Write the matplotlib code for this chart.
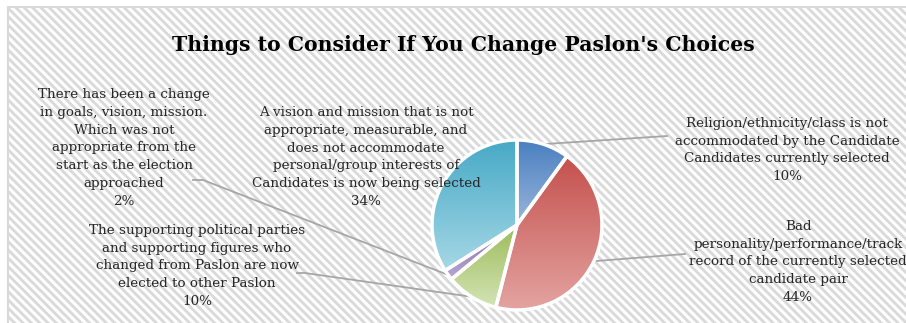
import numpy as np
import matplotlib
matplotlib.use("Agg")
import matplotlib.pyplot as plt
from matplotlib.colors import LinearSegmentedColormap
from matplotlib.patches import Rectangle

# survey shares, clockwise from 12 o'clock
labels = [
    "Religion/ethnicity/class is not\naccommodated by the Candidate\nCandidates currently selected",
    "Bad\npersonality/performance/track\nrecord of the currently selected\ncandidate pair",
    "The supporting political parties\nand supporting figures who\nchanged from Paslon are now\nelected to other Paslon",
    "There has been a change\nin goals, vision, mission.\nWhich was not\nappropriate from the\nstart as the election\napproached",
    "A vision and mission that is not\nappropriate, measurable, and\ndoes not accommodate\npersonal/group interests of\nCandidates is now being selected",
]
values = [10, 44, 10, 2, 34]
title = "Things to Consider If You Change Paslon's Choices"

top_colors = ["#4a7fc0", "#c4504d", "#9bbb59", "#8064a2", "#47a9c6"]
bottom_colors = ["#9ab6dc", "#e4a5a2", "#d4e4b6", "#b9a9d2", "#a6d8e6"]

W, H = 906, 323
plt.rcParams["font.family"] = "DejaVu Serif"
plt.rcParams["hatch.linewidth"] = 2.0

fig = plt.figure(figsize=(W / 100, H / 100), dpi=100)
ax = fig.add_axes([0, 0, 1, 1])


def Y(y):
    # pixel rows counted from the top
    return H - y


# striped chart area, running off the right and bottom edges
bg = Rectangle((8, -10), W + 10, Y(7) + 10, facecolor="white", edgecolor="#d9d9d9",
               hatch="\\\\\\\\", linewidth=1.5, zorder=0)
ax.add_patch(bg)

cx, cy, r = 517, Y(225), 85
wedges, _ = ax.pie(values, startangle=90, counterclock=False, center=(cx, cy),
                   radius=r, wedgeprops=dict(facecolor="none", edgecolor="white",
                                             linewidth=2.5, zorder=3))

# vertical gradient inside each slice
grad = np.linspace(0, 1, 256).reshape(-1, 1)
for w, c1, c2 in zip(wedges, top_colors, bottom_colors):
    v = w.get_path().vertices
    cmap = LinearSegmentedColormap.from_list("g", [c1, c2])
    im = ax.imshow(grad, cmap=cmap, extent=(v[:, 0].min(), v[:, 0].max(),
                                            v[:, 1].min(), v[:, 1].max()),
                   origin="upper", aspect="auto", zorder=2)
    im.set_clip_path(w)

# labels with percentages
label_pos = [(787, 150), (798, 262), (197, 266), (124, 148), (366, 157)]
for lab, val, (lx, ly) in zip(labels, values, label_pos):
    ax.text(lx, Y(ly), f"{lab}\n{val}%", ha="center", va="center",
            multialignment="center", fontsize=9.7, color="#262626",
            linespacing=1.48, zorder=4)

# leader lines from slice midpoints
leader_ends = {0: [(667, 136)], 1: [(685, 254)],
               2: [(305, 273), (297, 273)], 3: [(203, 180), (193, 180)]}
cum = np.cumsum([0] + values)
for i, pts in leader_ends.items():
    mid = np.deg2rad(90 - (cum[i] + values[i] / 2) / sum(values) * 360)
    xs = [cx + r * np.cos(mid)] + [p[0] for p in pts]
    ys = [cy + r * np.sin(mid)] + [Y(p[1]) for p in pts]
    ax.plot(xs, ys, color="#a6a6a6", linewidth=1.3, zorder=1.5)

ax.text(463, Y(45), title, ha="center", va="center", fontsize=14.7,
        fontweight="bold", color="black", zorder=4)

ax.set_xlim(0, W)
ax.set_ylim(0, H)
ax.set_aspect("auto")
ax.axis("off")
fig.savefig("out.png", dpi=100, facecolor="white")
